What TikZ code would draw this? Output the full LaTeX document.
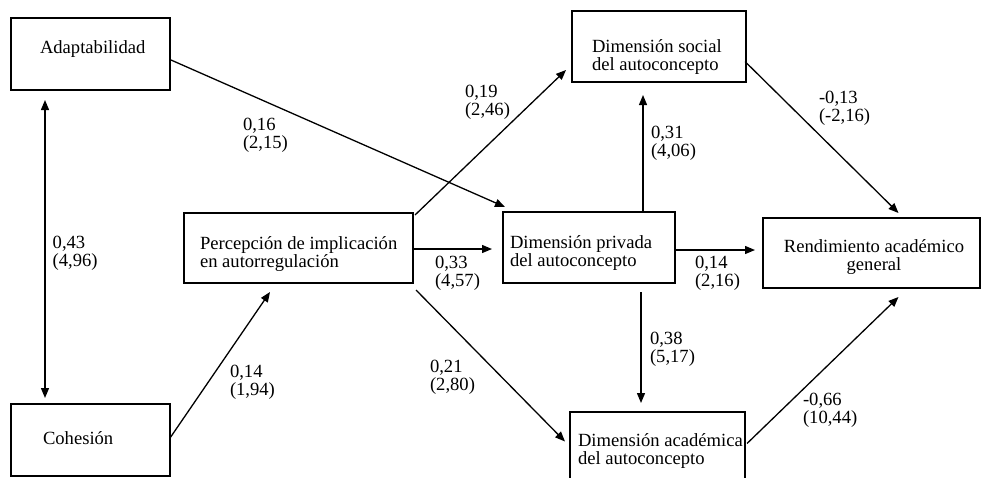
\documentclass[tikz,border=0pt]{standalone}
\usepackage{fontspec}
\setmainfont{Liberation Serif}
\usetikzlibrary{calc,arrows.meta}
\tikzset{
  box/.style={draw, line width=1.3pt, inner sep=0pt, outer sep=0pt},
  txt/.style={inner sep=0pt, outer sep=0pt, align=left, anchor=base west, font=\fontsize{18.6}{18.5}\selectfont},
  lbl/.style={txt},
  arr/.style={line width=1.3pt, -{Triangle[length=10pt,width=8pt]}},
  darr/.style={line width=1.3pt, {Triangle[length=10pt,width=8pt]}-{Triangle[length=10pt,width=8pt]}}
}
\begin{document}
\begin{tikzpicture}[x=1pt,y=-1pt]
\path[use as bounding box, clip] (0,0) rectangle (981,477);
\fill[white] (0,0) rectangle (981,477);
% boxes
\node[box, minimum width=159pt, minimum height=72pt] (adapt) at (90.5,54) {};
\node[box, minimum width=159pt, minimum height=72pt] (cohes) at (90.5,440) {};
\node[box, minimum width=229pt, minimum height=70pt] (perc) at (298.5,248) {};
\node[box, minimum width=174pt, minimum height=71pt] (social) at (659,46.5) {};
\node[box, minimum width=172pt, minimum height=71pt] (priv) at (589,247.5) {};
\node[box, minimum width=217pt, minimum height=70pt] (rend) at (871.5,253) {};
\node[box, minimum width=175pt, minimum height=71pt] (acad) at (657.5,447.5) {};
% box texts (two-line nodes are placed by the baseline of their last line)
\node[txt] (adaptT) at (40,53) {Adaptabilidad};
\node[txt] (cohesT) at (43,444) {Cohesión};
\node[txt] (percT) at (200,267.5) {Percepción de implicación\\en autorregulación};
\node[txt] (socialT) at (592,70.5) {Dimensión social\\del autoconcepto};
\node[txt] (privT) at (510,266.5) {Dimensión privada\\del autoconcepto};
\node[txt, align=center, anchor=base] (rendT) at (874,270.5) {Rendimiento académico\\general};
\node[txt] (acadT) at (578,464.5) {Dimensión académica\\del autoconcepto};
% connectors
\draw[darr] ($(adapt.south west)+(34,10)$) -- ($(cohes.north west)+(34,-6)$);
\draw[arr] ($(cohes.east)+(0,-2)$) -- ($(perc.south west)+(86,9)$);
\draw[arr] ($(adapt.east)+(1,6)$) -- ($(priv.north west)+(2,-5)$);
\draw[arr] ($(perc.north east)+(2,2)$) -- ($(social.south west)+(-6,-12)$);
\draw[arr] ($(perc.east)+(0,1)$) -- ($(priv.west)+(-11,1.5)$);
\draw[arr] ($(perc.south east)+(3,7)$) -- ($(acad.west)+(-5,-6)$);
\draw[arr] ($(priv.north)+(54,0)$) -- ($(social.south)+(-16,13)$);
\draw[arr] ($(priv.south)+(52,9)$) -- ($(acad.north)+(-16.5,-9)$);
\draw[arr] ($(priv.east)+(0,2.5)$) -- ($(rend.west)+(-8,-3)$);
\draw[arr] ($(social.east)+(-1,15)$) -- ($(rend.north)+(27,-5)$);
\draw[arr] ($(acad.east)+(2,-4)$) -- ($(rend.south)+(27,9)$);
% labels
\node[lbl] (l1) at (52.7,266.5) {0,43\\(4,96)};
\node[lbl] (l2) at (243,148.5) {0,16\\(2,15)};
\node[lbl] (l3) at (465,115.5) {0,19\\(2,46)};
\node[lbl] (l4) at (651,156.5) {0,31\\(4,06)};
\node[lbl] (l5) at (819,121.5) {-0,13\\(-2,16)};
\node[lbl] (l6) at (435,286.5) {0,33\\(4,57)};
\node[lbl] (l7) at (695,286.5) {0,14\\(2,16)};
\node[lbl] (l8) at (230,395.5) {0,14\\(1,94)};
\node[lbl] (l9) at (430,390.5) {0,21\\(2,80)};
\node[lbl] (l10) at (650,362.5) {0,38\\(5,17)};
\node[lbl] (l11) at (803,423.5) {-0,66\\(10,44)};
\end{tikzpicture}
\end{document}
